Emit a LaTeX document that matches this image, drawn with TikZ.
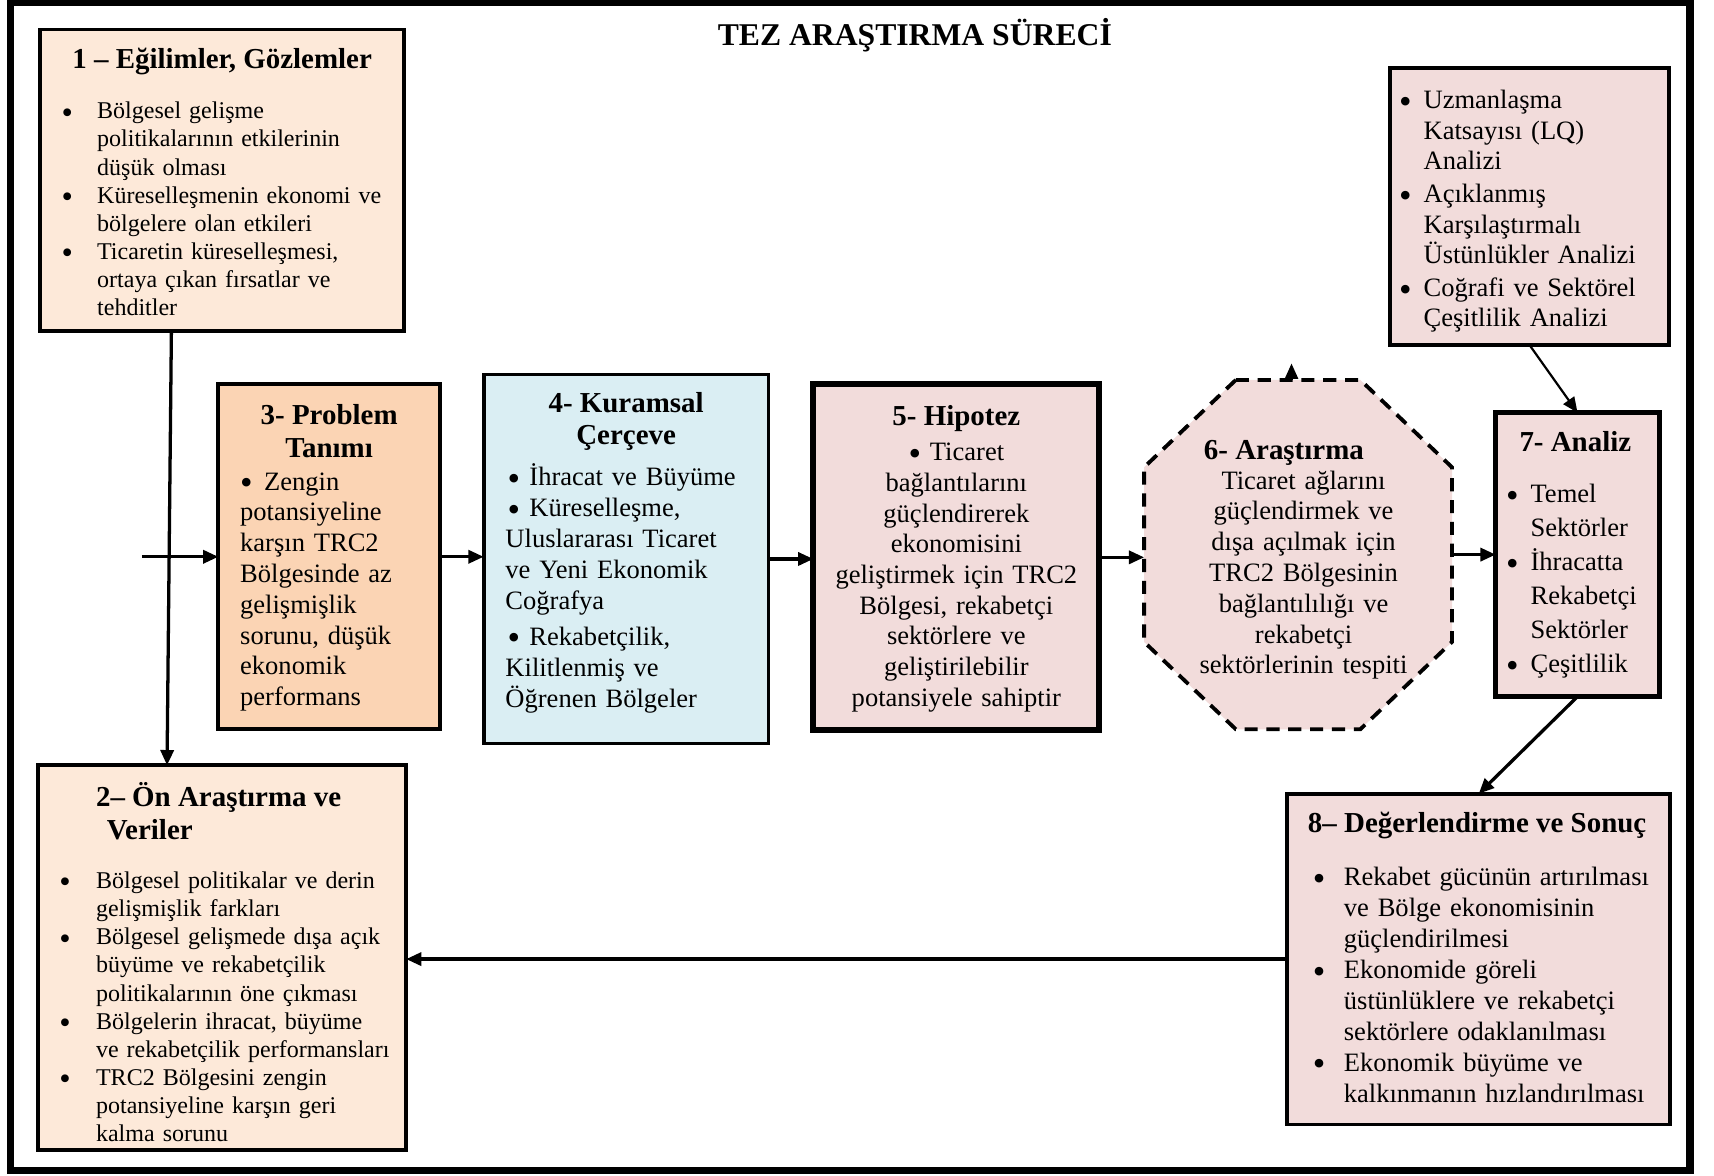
\documentclass[tikz,border=0pt]{standalone}
\usepackage{fontspec}
\usepackage{graphicx}
\setmainfont{Liberation Serif}
\usetikzlibrary{arrows.meta,calc}
\setlength{\parindent}{0pt}
\definecolor{peachL}{HTML}{FDE9D9}
\definecolor{peachD}{HTML}{FBD4B4}
\definecolor{blueL}{HTML}{DAEEF3}
\definecolor{roseL}{HTML}{F2DCDB}
\newcommand{\bul}{\raisebox{-0.18em}{\scalebox{1.35}{\textbullet}}}
\newcommand{\bitem}[3]{\par\hangindent=#1\hangafter=1\noindent\makebox[#1][l]{\hspace*{#2}\bul}#3\par}
\newcommand{\fst}{\rule{0pt}{22pt}}
\begin{document}
\begin{tikzpicture}[x=1pt,y=-1pt,
  bx/.style={draw=black,line width=3.5pt,inner sep=0pt,outer sep=0pt},
  hd/.style={font=\fontsize{26.5}{30}\selectfont\bfseries,inner sep=0pt,outer sep=0pt},
  bodyS/.style={font=\fontsize{22}{25.8}\selectfont,inner sep=0pt,outer sep=0pt,align=left},
  bodyL/.style={font=\fontsize{24.3}{28.2}\selectfont,inner sep=0pt,outer sep=0pt},
  arr/.style={line width=3pt,-{Triangle[length=14pt,width=12pt]}},
  octline/.style={fill=roseL,draw=black,line width=3.5pt,dash pattern=on 12pt off 8pt},
]
\useasboundingbox (0,0) rectangle (1570,1077);
% frame
\node[draw=black,line width=6.5pt,minimum width=1538pt,minimum height=1070pt,inner sep=0pt] (frame) at (779,537) {};
\node[font=\fontsize{29}{34}\selectfont\bfseries,anchor=base,inner sep=0pt] (title) at (838,42) {TEZ ARAŞTIRMA SÜRECİ};

% boxes
\node[bx,fill=peachL,minimum width=333pt,minimum height=276pt] (b1) at (203.5,165) {};
\node[bx,fill=peachL,minimum width=337pt,minimum height=352pt] (b2) at (203.5,877) {};
\node[bx,fill=peachD,minimum width=203pt,minimum height=316pt] (b3) at (301.5,510) {};
\node[bx,fill=blueL,minimum width=261pt,minimum height=338pt] (b4) at (573.5,512) {};
\node[bx,fill=roseL,line width=5.5pt,minimum width=262pt,minimum height=317pt] (b5) at (876,510.5) {};
\node[inner sep=0pt,outer sep=0pt,minimum width=282pt,minimum height=320pt] (oct) at (1189,508) {};
\draw[octline] ($(oct.north west)+(84,0)$) -- ($(oct.north east)+(-84,0)$) -- ($(oct.north east)+(0,80)$) -- ($(oct.south east)+(0,-80)$) -- ($(oct.south east)+(-84,0)$) -- ($(oct.south west)+(84,0)$) -- ($(oct.south west)+(0,-80)$) -- ($(oct.north west)+(0,80)$) -- cycle;
\node[bx,fill=roseL,line width=4.5pt,minimum width=150pt,minimum height=260pt] (b7) at (1445,508) {};
\node[bx,fill=roseL,minimum width=256pt,minimum height=254pt] (bA) at (1401,189) {};
\node[bx,fill=roseL,minimum width=351pt,minimum height=303pt] (b8) at (1354.5,878.5) {};

% box 1
\node[hd,anchor=base] (t1h) at (203.5,63) {1 – Eğilimler, Gözlemler};
\node[bodyS,text width=310pt,anchor=north west] (t1b) at (50,83) {\bitem{39pt}{6.5pt}{\fst Bölgesel gelişme\newline politikalarının etkilerinin\newline düşük olması}\bitem{39pt}{6.5pt}{Küreselleşmenin ekonomi ve\newline bölgelere olan etkileri}\bitem{39pt}{6.5pt}{Ticaretin küreselleşmesi,\newline ortaya çıkan fırsatlar ve\newline tehditler}};

% box 2
\node[hd,align=left,anchor=north west] (t2h) at (88,715) {\rule{0pt}{24pt}2– Ön Araştırma ve\\\hspace*{10pt}Veriler};
\node[bodyS,text width=315pt,anchor=north west] (t2b) at (50,788) {\bitem{38pt}{4.5pt}{\fst Bölgesel politikalar ve derin\newline gelişmişlik farkları}\bitem{38pt}{4.5pt}{Bölgesel gelişmede dışa açık\newline büyüme ve rekabetçilik\newline politikalarının öne çıkması}\bitem{38pt}{4.5pt}{Bölgelerin ihracat, büyüme\newline ve rekabetçilik performansları}\bitem{38pt}{4.5pt}{TRC2 Bölgesini zengin\newline potansiyeline karşın geri\newline kalma sorunu}};

% box 3
\node[hd,align=center,anchor=north] (t3h) at (301.5,365) {\rule{0pt}{24pt}3- Problem\\Tanımı};
\node[bodyL,text width=175pt,align=left,anchor=north west] (t3b) at (220,427) {\fst\bul\hspace{10.5pt}Zengin\newline potansiyeline\newline karşın TRC2\newline Bölgesinde az\newline gelişmişlik\newline sorunu, düşük\newline ekonomik\newline performans};

% box 4
\node[hd,align=center,anchor=north,font=\fontsize{26.5}{29}\selectfont\bfseries] (t4h) at (573.5,354) {\rule{0pt}{24pt}4- Kuramsal\\Çerçeve};
\node[bodyL,font=\fontsize{24.3}{28.3}\selectfont,text width=232pt,align=left,anchor=north west] (t4b) at (463,423) {\fst\hspace*{2pt}\bul\hspace{8.5pt}İhracat ve Büyüme\newline
\hspace*{2pt}\bul\hspace{8.5pt}Küreselleşme,\newline Uluslararası Ticaret\newline ve Yeni Ekonomik\newline Coğrafya\par\vspace{4.5pt}
\hspace*{2pt}\bul\hspace{8.5pt}Rekabetçilik,\newline Kilitlenmiş ve\newline Öğrenen Bölgeler};

% box 5
\node[hd,anchor=base] (t5h) at (876,390) {5- Hipotez};
\node[bodyL,font=\fontsize{24.3}{28.1}\selectfont,text width=250pt,align=center,anchor=north] (t5b) at (876,400) {\fst\bul{} Ticaret\\bağlantılarını\\güçlendirerek\\ekonomisini\\geliştirmek için TRC2\\Bölgesi, rekabetçi\\sektörlere ve\\geliştirilebilir\\potansiyele sahiptir};

% octagon
\node[hd,anchor=base] (t6h) at (1176,421) {6- Araştırma};
\node[bodyL,text width=250pt,align=center,anchor=north] (t6b) at (1194,426) {\fst Ticaret ağlarını\\güçlendirmek ve\\dışa açılmak için\\TRC2 Bölgesinin\\bağlantılılığı ve\\rekabetçi\\sektörlerinin tespiti};

% box 7
\node[hd,anchor=base] (t7h) at (1443,414) {7- Analiz};
\node[bodyL,font=\fontsize{24.3}{31.2}\selectfont,text width=135pt,align=left,anchor=north west] (t7b) at (1380,429) {\bitem{22pt}{-0.5pt}{\fst Temel\newline Sektörler}\bitem{22pt}{-0.5pt}{İhracatta\newline Rekabetçi\newline Sektörler}\bitem{22pt}{-0.5pt}{Çeşitlilik}};

% box A
\node[bodyL,font=\fontsize{24.3}{28}\selectfont,text width=240pt,align=left,anchor=north west] (tAb) at (1280,69.5) {\parskip=2pt\relax\bitem{24pt}{1.5pt}{\fst Uzmanlaşma\newline Katsayısı (LQ)\newline Analizi}\bitem{24pt}{1.5pt}{Açıklanmış\newline Karşılaştırmalı\newline Üstünlükler Analizi}\bitem{24pt}{1.5pt}{Coğrafi ve Sektörel\newline Çeşitlilik Analizi}};

% box 8
\node[hd,anchor=base] (t8h) at (1353,763) {8– Değerlendirme ve Sonuç};
\node[bodyL,font=\fontsize{24.3}{28.3}\selectfont,text width=320pt,align=left,anchor=north west] (t8b) at (1200,783) {\bitem{31pt}{2.5pt}{\fst Rekabet gücünün artırılması\newline ve Bölge ekonomisinin\newline güçlendirilmesi}\bitem{31pt}{2.5pt}{Ekonomide göreli\newline üstünlüklere ve rekabetçi\newline sektörlere odaklanılması}\bitem{31pt}{2.5pt}{Ekonomik büyüme ve\newline kalkınmanın hızlandırılması}};

% connectors
\coordinate (br) at (130,510);
\coordinate (stub) at (1183,333);
\draw[arr] ([xshift=-46.5pt]b1.south) -- ([xshift=-50.5pt]b2.north);
\draw[arr] (br) -- (b3.west);
\draw[arr] (b3.east) -- (b3.east -| b4.west);
\draw[arr] (b4.east) -- (b4.east -| b5.west);
\draw[arr] (b5.east) -- (b5.east -| oct.west);
\draw[arr] (oct.east) -- (b7.west);
\draw[arr,line width=2pt] (bA.south) -- (b7.north);
\draw[arr] (b7.south) -- (b8.north);
\draw[arr] (b8.west) -- (b8.west -| b2.east);
\draw[arr,line width=2pt] (oct.north -| stub) -- (stub);
\end{tikzpicture}
\end{document}
